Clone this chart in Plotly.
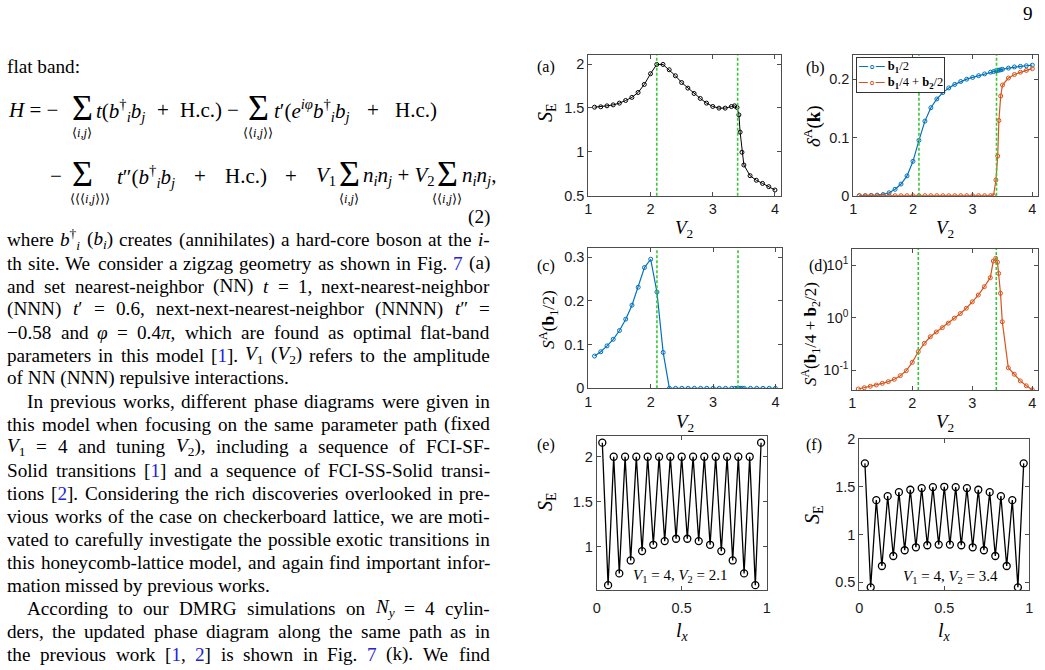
import re
import plotly.graph_objects as go

W, H = 1045, 670

# ---------------- data ----------------
V2 = [1.1, 1.2, 1.3, 1.4, 1.5, 1.6, 1.7, 1.8, 1.9, 2.0, 2.1, 2.2, 2.3, 2.4, 2.5, 2.6, 2.7,
      2.8, 2.9, 3.0, 3.1, 3.2, 3.3, 3.35, 3.39, 3.42, 3.44, 3.47, 3.5, 3.6, 3.7, 3.8, 3.9, 4.0]
SE_a = [1.509, 1.513, 1.524, 1.535, 1.555, 1.585, 1.62, 1.676, 1.768, 1.89, 1.996, 1.996,
        1.935, 1.867, 1.79, 1.726, 1.665, 1.608, 1.555, 1.517, 1.498, 1.498, 1.516, 1.524,
        1.505, 1.421, 1.224, 0.995, 0.85, 0.728, 0.676, 0.64, 0.603, 0.565]
delta_b1 = [0.0, 0.0, 0.0005, 0.001, 0.002, 0.005, 0.011, 0.02, 0.034, 0.059, 0.095, 0.128,
            0.151, 0.166, 0.177, 0.185, 0.191, 0.196, 0.200, 0.203, 0.206, 0.209, 0.212,
            0.213, 0.2145, 0.215, 0.2155, 0.216, 0.217, 0.219, 0.221, 0.222, 0.223, 0.224]
delta_b2 = [0.0] * 24 + [0.027, 0.068, 0.129, 0.171, 0.19, 0.202, 0.208, 0.212, 0.215, 0.218]
SA_b1 = [0.0737, 0.0835, 0.097, 0.112, 0.132, 0.158, 0.19, 0.231, 0.276, 0.295, 0.22, 0.082] + [0.0] * 22
SA_b2 = [0.0435, 0.046, 0.0489, 0.0518, 0.0557, 0.06, 0.0664, 0.078, 0.097, 0.14, 0.223, 0.322,
         0.43, 0.53, 0.64, 0.78, 0.97, 1.19, 1.5, 1.99, 2.68, 3.86, 5.74, 11.9, 13.4, 11.3,
         6.9, 2.89, 0.83, 0.11, 0.083, 0.062, 0.050, 0.042]
lx = [0.033, 0.067, 0.1, 0.133, 0.167, 0.2, 0.233, 0.267, 0.3, 0.333, 0.367, 0.4, 0.433, 0.467,
      0.5, 0.533, 0.567, 0.6, 0.633, 0.667, 0.7, 0.733, 0.767, 0.8, 0.833, 0.867, 0.9, 0.933, 0.967]
SE_e = [2.156, 0.574, 2.0, 0.704, 2.0, 0.848, 2.0, 0.952, 2.0, 1.022, 2.0, 1.063, 2.0, 1.089, 2.0,
        1.089, 2.0, 1.063, 2.0, 1.022, 2.0, 0.952, 2.0, 0.848, 2.0, 0.704, 2.0, 0.574, 2.156]
SE_f = [1.745, 0.448, 1.36, 0.671, 1.402, 0.776, 1.444, 0.836, 1.469, 0.867, 1.486, 0.888, 1.497,
        0.895, 1.5, 0.895, 1.497, 0.888, 1.486, 0.867, 1.469, 0.836, 1.444, 0.776, 1.402, 0.671,
        1.36, 0.448, 1.745]
transitions = [2.1, 3.4]
legend_labels = ['<b>b</b><sub><b>1</b></sub>/2',
                 '<b>b</b><sub><b>1</b></sub>/4 + <b>b</b><sub><b>2</b></sub>/2']

# ---------------- styles ----------------
BLUE = '#0072BD'
ORANGE = '#D95319'
GREEN = '#36c636'
AX = '#4d4d4d'
SERIF = 'Liberation Serif, Times New Roman, serif'
SANS = 'Liberation Sans, Arial, sans-serif'
LINK = '#2323d8'
NB = '\u00a0'
BODY = 19.2


def dx(a, b):
    return [a / W, b / W]


def dy(top, bottom):
    return [1 - bottom / H, 1 - top / H]


def ax(**kw):
    d = dict(showline=True, linecolor=AX, linewidth=1, mirror='ticks', ticks='inside',
             ticklen=4, tickcolor=AX, tickwidth=1, showgrid=False, zeroline=False,
             tickfont=dict(family=SANS, size=14.5, color='#1a1a1a'), tickmode='array')
    d.update(kw)
    return d


fig = go.Figure()


def mk(c, s=4, w=1):
    return dict(symbol='circle-open', size=s, color=c, line=dict(width=w))


fig.add_trace(go.Scatter(x=V2, y=SE_a, mode='lines+markers', xaxis='x', yaxis='y',
                         line=dict(color='black', width=1), marker=mk('black')))
fig.add_trace(go.Scatter(x=V2, y=delta_b1, mode='lines+markers', xaxis='x2', yaxis='y2',
                         name=legend_labels[0], line=dict(color=BLUE, width=1.2), marker=mk(BLUE)))
fig.add_trace(go.Scatter(x=V2, y=delta_b2, mode='lines+markers', xaxis='x2', yaxis='y2',
                         name=legend_labels[1], line=dict(color=ORANGE, width=1.2),
                         marker=mk(ORANGE)))
fig.add_trace(go.Scatter(x=V2, y=SA_b1, mode='lines+markers', xaxis='x3', yaxis='y3',
                         line=dict(color=BLUE, width=1.2), marker=mk(BLUE)))
fig.add_trace(go.Scatter(x=V2, y=SA_b2, mode='lines+markers', xaxis='x4', yaxis='y4',
                         line=dict(color=ORANGE, width=1.2), marker=mk(ORANGE)))
fig.add_trace(go.Scatter(x=lx, y=SE_e, mode='lines+markers', xaxis='x5', yaxis='y5',
                         line=dict(color='black', width=1.3), marker=mk('black', 7, 1.3)))
fig.add_trace(go.Scatter(x=lx, y=SE_f, mode='lines+markers', xaxis='x6', yaxis='y6',
                         line=dict(color='black', width=1.3), marker=mk('black', 7, 1.3)))

vt = [1, 2, 3, 4]
fig.update_layout(
    width=W, height=H, margin=dict(l=0, r=0, t=0, b=0, autoexpand=False),
    paper_bgcolor='white', plot_bgcolor='white', showlegend=False,
    xaxis=ax(domain=dx(588.3, 781.2), range=[1, 4.1], tickvals=vt, anchor='y'),
    yaxis=ax(domain=dy(55.3, 195.7), range=[0.5, 2.1], tickvals=[0.5, 1, 1.5, 2],
             ticktext=['0.5', '1', '1.5', '2'], anchor='x'),
    xaxis2=ax(domain=dx(853.3, 1038.3), range=[1, 4.1], tickvals=vt, anchor='y2'),
    yaxis2=ax(domain=dy(54.7, 195.7), range=[0, 0.242], tickvals=[0, 0.1, 0.2],
              ticktext=['0', '0.1', '0.2'], anchor='x2'),
    xaxis3=ax(domain=dx(588.3, 781.7), range=[1, 4.1], tickvals=vt, anchor='y3'),
    yaxis3=ax(domain=dy(248.3, 388.3), range=[0, 0.32], tickvals=[0, 0.1, 0.2, 0.3],
              ticktext=['0', '0.1', '0.2', '0.3'], anchor='x3'),
    xaxis4=ax(domain=dx(852.3, 1038.3), range=[1, 4.1], tickvals=vt, anchor='y4'),
    yaxis4=ax(domain=dy(249, 390), type='log', range=[-1.381, 1.305], tickvals=[0.1, 1, 10],
              ticktext=['10<sup>-1</sup>', '10<sup>0</sup>', '10<sup>1</sup>'], anchor='x4'),
    xaxis5=ax(domain=dx(596.7, 766.7), range=[0, 1], tickvals=[0, 0.5, 1],
              ticktext=['0', '0.5', '1'], anchor='y5', ticklabelstandoff=5),
    yaxis5=ax(domain=dy(436, 590), range=[0.52, 2.23], tickvals=[1, 1.5, 2],
              ticktext=['1', '1.5', '2'], anchor='x5'),
    xaxis6=ax(domain=dx(859.3, 1029.3), range=[0, 1], tickvals=[0, 0.5, 1],
              ticktext=['0', '0.5', '1'], anchor='y6', ticklabelstandoff=5),
    yaxis6=ax(domain=dy(439, 590), range=[0.42, 2.0], tickvals=[0.5, 1, 1.5, 2],
              ticktext=['0.5', '1', '1.5', '2'], anchor='x6'),
)

shapes = []
for xa, ya in [('x', 'y'), ('x2', 'y2'), ('x3', 'y3'), ('x4', 'y4')]:
    for v in transitions:
        shapes.append(dict(type='line', xref=xa, yref=ya + ' domain', x0=v, x1=v, y0=0, y1=1,
                           line=dict(color=GREEN, width=1.6, dash='3px,2px'), layer='above'))
fig.update_layout(shapes=shapes)

ann = []


def T(x, y, text, size=BODY, anchor='left', angle=0, family=SERIF, color='black', **kw):
    d = dict(x=x / W, y=1 - y / H, xref='paper', yref='paper', text=text,
             showarrow=False, xanchor=anchor, yanchor='middle', textangle=angle,
             borderpad=0, borderwidth=0, font=dict(family=family, size=size, color=color))
    d.update(kw)
    ann.append(d)


# ---- legend of panel (b): boxed text with coloured line/marker samples ----
leg = '<br>'.join("<span style='color:%s'>─∘─</span> %s" % (c, lab)
                  for c, lab in zip([BLUE, ORANGE], legend_labels))
T(856, 57, leg, size=12.5, align='left', yanchor='top', bgcolor='white',
  bordercolor='#333333', borderwidth=1, borderpad=1)

# ---- panel labels, axis titles, notes ----
for lab, x, y in [('(a)', 546, 67), ('(b)', 815, 68), ('(c)', 546, 266), ('(d)', 818, 266),
                  ('(e)', 546, 445), ('(f)', 814, 445)]:
    T(x, y, lab, size=16, anchor='center')

SE_T = '<i>S</i><sub>E</sub>'
T(546, 113, SE_T, size=20, anchor='center', angle=-90)
T(812, 126, '<i>δ</i><sup>A</sup>(<b>k</b>)', size=19, anchor='center', angle=-90)
T(548, 320, '<i>S</i><sup>A</sup>(<b>b</b><sub>1</sub>/2)', size=17.5, anchor='center', angle=-90)
T(811, 334, '<i>S</i><sup>A</sup>(<b>b</b><sub>1</sub>/4 + <b>b</b><sub>2</sub>/2)', size=17,
  anchor='center', angle=-90)
T(546, 502, SE_T, size=20, anchor='center', angle=-90)
T(813, 515, SE_T, size=20, anchor='center', angle=-90)

V2T = '<i>V</i><sub>2</sub>'
T(684, 229, V2T, size=19, anchor='center')
T(945, 229, V2T, size=19, anchor='center')
T(685, 423, V2T, size=19, anchor='center')
T(945, 423, V2T, size=19, anchor='center')
T(682, 631, '<i>l</i><sub><i>x</i></sub>', size=20, anchor='center')
T(944, 631, '<i>l</i><sub><i>x</i></sub>', size=20, anchor='center')

T(680, 576, '<i>V</i><sub>1</sub> = 4, <i>V</i><sub>2</sub> = 2.1', size=15, anchor='center')
T(950, 577, '<i>V</i><sub>1</sub> = 4, <i>V</i><sub>2</sub> = 3.4', size=15, anchor='center')

T(1028, 13, '9', anchor='center')

# ---- text metrics (Times-compatible) for justification ----
ROMAN = {' ': 250, NB: 250, '!': 333, '(': 333, ')': 333, '+': 564, ',': 250, '-': 333, '.': 250,
         '/': 278, ':': 278, ';': 278, '=': 564, '[': 333, ']': 333, '−': 564, '†': 500,
         '′': 275, '″': 420, 'φ': 520, 'π': 550}
for ch in '0123456789':
    ROMAN[ch] = 500
ROMAN.update(dict(zip('ABCDEFGHIJKLMNOPQRSTUVWXYZ',
                      [722, 667, 667, 722, 611, 556, 722, 722, 333, 389, 722, 611, 889, 722, 722,
                       556, 722, 667, 556, 611, 722, 722, 944, 722, 722, 611])))
ROMAN.update(dict(zip('abcdefghijklmnopqrstuvwxyz',
                      [444, 500, 444, 500, 444, 333, 500, 500, 278, 278, 500, 278, 778, 500, 500,
                       500, 500, 333, 389, 278, 500, 500, 722, 500, 500, 444])))
ITAL = dict(ROMAN)
ITAL.update(dict(zip('abcdefghijklmnopqrstuvwxyz',
                     [500, 500, 444, 500, 444, 278, 500, 500, 278, 278, 444, 278, 722, 500, 500,
                      500, 500, 389, 389, 278, 500, 444, 667, 444, 444, 389])))
ITAL.update({'V': 611, 'N': 667, 'S': 500, 'H': 722})


def width(html, size):
    w, ital, scale = 0.0, 0, 1.0
    for tok in re.split(r'(<[^>]*>)', html):
        if tok.startswith('<'):
            closing = tok.startswith('</')
            inner = tok.strip('</>')
            tag = inner.split()[0] if inner else ''
            if tag == 'i':
                ital += -1 if closing else 1
            elif tag in ('sub', 'sup'):
                scale = 1.0 if closing else 0.7
            continue
        for ch in tok:
            tab = ITAL if ital > 0 else ROMAN
            w += tab.get(ch, 500) * scale
    return w * size / 1000.0


def justify(tokens, left, right, y, size):
    ws = [width(t, size) for t in tokens]
    gap = (right - left - sum(ws)) / (len(tokens) - 1)
    x = left
    for i, (t, wd) in enumerate(zip(tokens, ws)):
        if i == len(tokens) - 1:
            T(right, y, t, size=size, anchor='right')
        else:
            T(x, y, t, size=size)
        x += wd + gap


# ---- equation (2) ----
EQ = 21
BDAG = '<i>b</i><sup>†</sup><sub><i>i</i></sub><i>b</i><sub><i>j</i></sub>'
NN = '<i>n</i><sub><i>i</i></sub><i>n</i><sub><i>j</i></sub>'
y1, y2 = 110, 176
T(7, 67, 'flat band:')
T(8, y1, '<i>H</i>' + NB + '=' + NB + '−', size=EQ)
for cx, sub in [(82, '⟨<i>i,j</i>⟩'), (258, '⟨⟨<i>i,j</i>⟩⟩')]:
    T(cx, y1 - 2, 'Σ', size=36, anchor='center')
    T(cx, y1 + 23, sub, size=12.5, anchor='center')
justify(['<i>t</i>(' + BDAG, '+', 'H.c.)'], 96, 222, y1, EQ)
T(233, y1, '−', size=EQ, anchor='center')
justify(['<i>t</i>′(<i>e</i><sup><i>iφ</i></sup>' + BDAG, '+', 'H.c.)'], 274, 437, y1, EQ)

T(50, y2, '−', size=EQ)
for cx, scx, sub in [(82, 90, '⟨⟨⟨<i>i,j</i>⟩⟩⟩'), (349, 349, '⟨<i>i,j</i>⟩'),
                     (447, 447, '⟨⟨<i>i,j</i>⟩⟩')]:
    T(cx, y2 - 2, 'Σ', size=36, anchor='center')
    T(scx, y2 + 23, sub, size=12.5, anchor='center')
justify(['<i>t</i>″(' + BDAG, '+', 'H.c.)', '+', '<i>V</i><sub>1</sub>'], 117, 336, y2, EQ)
T(363, y2, NN + NB + '+' + NB + '<i>V</i><sub>2</sub>', size=EQ)
T(462, y2, NN + ',', size=EQ)
T(490, 217, '(2)', anchor='right')


# ---- body text, justified word by word ----
def Lk(s):
    return "<span style='color:%s'>%s</span>" % (LINK, s)


V1 = '<i>V</i><sub>1</sub>'
V2s = '<i>V</i><sub>2</sub>'
body = [
    ('where <i>b</i><sup>†</sup><sub><i>i</i></sub> (<i>b</i><sub><i>i</i></sub>) creates '
     '(annihilates) a hard-core boson at the <i>i</i>-', 7, True),
    ('th site. We consider a zigzag geometry as shown in Fig. ' + Lk('7') + ' (a)', 7, True),
    ('and set nearest-neighbor (NN) <i>t</i> = 1, next-nearest-neighbor', 7, True),
    ('(NNN) <i>t</i>′ = 0.6, next-next-nearest-neighbor (NNNN) <i>t</i>″ =', 7, True),
    ('−0.58 and <i>φ</i> = 0.4<i>π</i>, which are found as optimal flat-band', 7, True),
    ('parameters in this model [' + Lk('1') + ']. ' + V1 + ' (' + V2s +
     ') refers to the amplitude', 7, True),
    ('of NN (NNN) repulsive interactions.', 7, False),
    ('In previous works, different phase diagrams were given in', 27, True),
    ('this model when focusing on the same parameter path (fixed', 7, True),
    (V1 + ' = 4 and tuning ' + V2s + '), including a sequence of FCI-SF-', 7, True),
    ('Solid transitions [' + Lk('1') + '] and a sequence of FCI-SS-Solid transi-', 7, True),
    ('tions [' + Lk('2') + ']. Considering the rich discoveries overlooked in pre-', 7, True),
    ('vious works of the case on checkerboard lattice, we are moti-', 7, True),
    ('vated to carefully investigate the possible exotic transitions in', 7, True),
    ('this honeycomb-lattice model, and again find important infor-', 7, True),
    ('mation missed by previous works.', 7, False),
    ('According to our DMRG simulations on <i>N</i><sub><i>y</i></sub> = 4 cylin-', 27, True),
    ('ders, the updated phase diagram along the same path as in', 7, True),
    ('the previous work [' + Lk('1') + ', ' + Lk('2') + '] is shown in Fig. ' + Lk('7') +
     ' (k). We find', 7, True),
]
RIGHT = 490
for k, (line, left, just) in enumerate(body):
    y = 240 + 23 * k
    if just:
        justify(re.split(r' (?![^<>]*>)', line), left, RIGHT, y, BODY)
    else:
        T(left, y, line)

fig.update_layout(annotations=ann)
fig.write_html('out.html')
